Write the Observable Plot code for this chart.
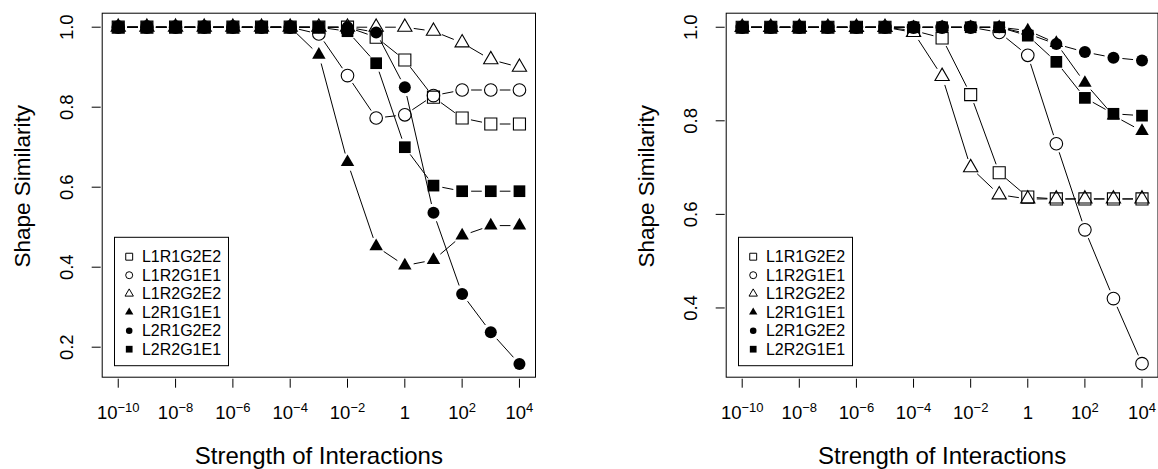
<!DOCTYPE html>
<html><head><meta charset="utf-8">
<script src="https://cdn.jsdelivr.net/npm/d3@7"></script>
<script src="https://cdn.jsdelivr.net/npm/@observablehq/plot@0.6"></script>
<style>
body{margin:0;background:#fff;}
#wrap{position:relative;width:1158px;height:469px;overflow:hidden;background:#fff;}
#wrap > div{position:absolute;top:0;}
</style></head>
<body><div id="wrap"><div id="left" style="left:0px"></div><div id="right" style="left:578px"></div></div>
<script>
// ---- data ----
const strength = [1e-10, 1e-9, 1e-8, 1e-7, 1e-6, 1e-5, 1e-4, 1e-3, 1e-2, 1e-1, 1, 1e1, 1e2, 1e3, 1e4];
const seriesNames = ["L1R1G2E2", "L1R2G1E1", "L1R2G2E2", "L2R1G1E1", "L2R1G2E2", "L2R2G1E1"];
const xTicks = [1e-10, 1e-8, 1e-6, 1e-4, 1e-2, 1, 1e2, 1e4];
const yTicksLeft = [0.2, 0.4, 0.6, 0.8, 1.0];
const yTicksRight = [0.4, 0.6, 0.8, 1.0];
const xTitle = "Strength of Interactions";
const yTitle = "Shape Similarity";

// left panel
const left_L1R1G2E2 = [1, 1, 1, 1, 1, 1, 1, 1, 1, 0.975, 0.918, 0.825, 0.773, 0.758, 0.758];
const left_L1R2G1E1 = [1, 1, 1, 1, 1, 1, 1, 0.983, 0.879, 0.773, 0.781, 0.829, 0.843, 0.843, 0.843];
const left_L1R2G2E2 = [1, 1, 1, 1, 1, 1, 1, 1, 1, 1, 1, 0.99, 0.961, 0.919, 0.90];
const left_L2R1G1E1 = [1, 1, 1, 1, 1, 1, 1, 0.931, 0.6625, 0.452, 0.404, 0.418, 0.479, 0.504, 0.504];
const left_L2R1G2E2 = [1, 1, 1, 1, 1, 1, 1, 1, 1, 0.987, 0.85, 0.536, 0.333, 0.2375, 0.158];
const left_L2R2G1E1 = [1, 1, 1, 1, 1, 1, 1, 1, 0.99, 0.91, 0.70, 0.604, 0.59, 0.59, 0.59];

// right panel
const right_L1R1G2E2 = [1, 1, 1, 1, 1, 1, 0.993, 0.977, 0.856, 0.689, 0.637, 0.633, 0.633, 0.633, 0.633];
const right_L1R2G1E1 = [1, 1, 1, 1, 1, 1, 1, 1, 1, 0.989, 0.94, 0.751, 0.567, 0.42, 0.281];
const right_L1R2G2E2 = [1, 1, 1, 1, 1, 1, 0.989, 0.895, 0.70, 0.642, 0.633, 0.633, 0.633, 0.633, 0.633];
const right_L2R1G1E1 = [1, 1, 1, 1, 1, 1, 1, 1, 1, 1, 0.993, 0.966, 0.881, 0.811, 0.778];
const right_L2R1G2E2 = [1, 1, 1, 1, 1, 1, 1, 1, 1, 1, 0.986, 0.964, 0.947, 0.935, 0.929];
const right_L2R2G1E1 = [1, 1, 1, 1, 1, 1, 1, 1, 1, 1, 0.982, 0.926, 0.849, 0.815, 0.811];

// ---- styles ----
const symStyle = [
  {symbol: "square",   filled: false, r: 6.8},
  {symbol: "circle",   filled: false, r: 6.3},
  {symbol: "triangle", filled: false, r: 5.3},
  {symbol: "triangle", filled: true,  r: 5.0},
  {symbol: "circle",   filled: true,  r: 6.0},
  {symbol: "square",   filled: true,  r: 6.6}
];
const legendR = [3.9, 3.5, 3.1, 3.1, 3.3, 3.8];
const FONT = "'Liberation Sans', Arial, Helvetica, sans-serif";

function buildPanel(el, values, yDomain, yTicks, width, marginLeft, marginRight) {
  const marks = [];
  marks.push(Plot.frame({stroke: "black", strokeWidth: 1}));
  marks.push(Plot.axisY({ticks: yTicks, tickSize: 9, dx: -1, tickFormat: () => "", label: null}));
  marks.push(Plot.text(yTicks, {y: d => d, text: d => d.toFixed(1), frameAnchor: "left", dx: -35,
    rotate: -90, textAnchor: "middle", lineAnchor: "middle", fontSize: 18.5}));
  marks.push(Plot.axisX({ticks: xTicks, tickSize: 9, dy: 2, tickPadding: 17.5, fontSize: 18.5,
    tickFormat: d => { const e = Math.round(Math.log10(d)); return e === 0 ? "1" : "10^" + e; }, label: null}));
  marks.push(Plot.text([xTitle], {text: d => d, frameAnchor: "bottom", dy: 79, textAnchor: "middle",
    lineAnchor: "middle", fontSize: 24}));
  marks.push(Plot.text([yTitle], {text: d => d, frameAnchor: "left", dx: -79, dy: -9, rotate: -90,
    textAnchor: "middle", lineAnchor: "middle", fontSize: 22.5}));
  values.forEach((vals, s) => {
    const pts = strength.map((x, i) => ({x, y: vals[i]}));
    const segs = pts.slice(1).map((p, i) => ({x1: pts[i].x, y1: pts[i].y, x2: p.x, y2: p.y}));
    marks.push(Plot.arrow(segs, {x1: "x1", y1: "y1", x2: "x2", y2: "y2", headLength: 0,
      insetStart: 9, insetEnd: 9, stroke: "black", strokeWidth: 1, strokeLinecap: "butt"}));
    const st = symStyle[s];
    marks.push(Plot.dot(pts, {x: "x", y: "y", symbol: () => st.symbol, r: st.r,
      fill: st.filled ? "black" : "none", stroke: st.filled ? "none" : "black", strokeWidth: 1.1}));
  });
  const svg = Plot.plot({
    width, height: 469, marginLeft, marginRight, marginTop: 12.7, marginBottom: 92.3,
    style: {fontFamily: FONT, background: "white", color: "black", overflow: "visible"},
    x: {type: "log", domain: [Math.pow(10, -10.56), Math.pow(10, 4.56)]},
    y: {domain: yDomain},
    symbol: {type: "identity"},
    marks
  });
  // superscript exponents in x tick labels
  d3.select(svg).selectAll("text").each(function() {
    const t = this.textContent;
    if (this.childElementCount === 0 && /^10\^-?\d+$/.test(t)) {
      const e = t.slice(3).replace("-", "\u2212");
      const sel = d3.select(this);
      sel.text(null);
      sel.append("tspan").text("10");
      sel.append("tspan").attr("dy", "-7").attr("font-size", "13").text(e);
    }
  });
  // legend
  const g = d3.select(svg).append("g").attr("font-family", FONT).attr("text-anchor", "start");
  const lx = marginLeft + 12.8, ly = 237.3, lw = 114, lh = 128.4;
  g.append("rect").attr("x", lx).attr("y", ly).attr("width", lw).attr("height", lh)
    .attr("fill", "white").attr("stroke", "black").attr("stroke-width", 1);
  seriesNames.forEach((name, i) => {
    const st = symStyle[i];
    const cy = ly + 19.4 + 18.5 * i;
    const type = st.symbol === "square" ? d3.symbolSquare : st.symbol === "circle" ? d3.symbolCircle : d3.symbolTriangle;
    g.append("path").attr("d", d3.symbol(type, Math.PI * legendR[i] * legendR[i])())
      .attr("transform", `translate(${lx + 14.7},${cy})`)
      .attr("fill", st.filled ? "black" : "none").attr("stroke", st.filled ? "none" : "black").attr("stroke-width", 1);
    g.append("text").attr("x", lx + 27.4).attr("y", cy).attr("dy", "0.36em").attr("text-anchor", "start")
      .attr("font-size", 16).attr("fill", "black").text(name);
  });
  el.appendChild(svg);
}

buildPanel(document.getElementById("left"),
  [left_L1R1G2E2, left_L1R2G1E1, left_L1R2G2E2, left_L2R1G1E1, left_L2R1G2E2, left_L2R2G1E1],
  [0.125, 1.035], yTicksLeft, 579, 101.7, 44);
buildPanel(document.getElementById("right"),
  [right_L1R1G2E2, right_L1R2G1E1, right_L1R2G2E2, right_L2R1G1E1, right_L2R1G2E2, right_L2R2G1E1],
  [0.252, 1.030], yTicksRight, 580, 147.7, 0.5);
</script>
</body></html>
